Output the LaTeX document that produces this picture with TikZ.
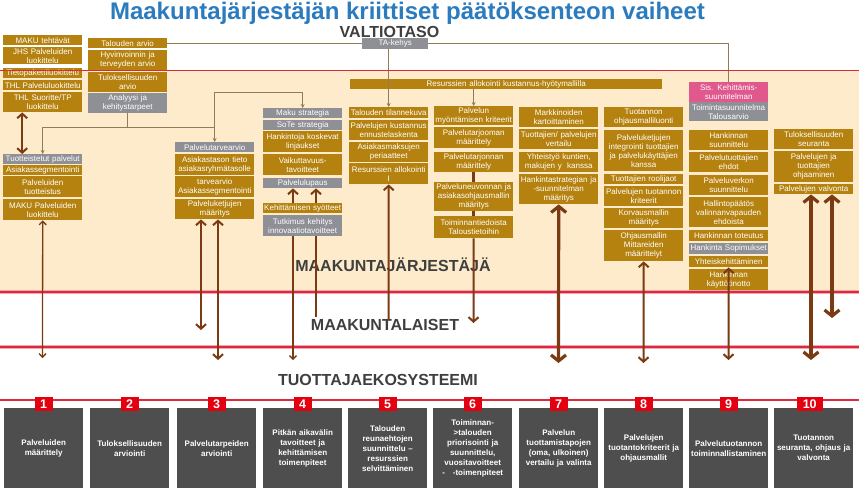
\documentclass[tikz,border=0pt]{standalone}
\usepackage{fontspec}
\setmainfont{Liberation Sans}
\usetikzlibrary{arrows.meta}
\definecolor{boxbrown}{HTML}{B5820F}
\definecolor{boxgray}{HTML}{8E9096}
\definecolor{boxpink}{HTML}{E0588C}
\definecolor{beige}{HTML}{FDEBCB}
\definecolor{arrowbrown}{HTML}{7B3A12}
\definecolor{conncol}{HTML}{8F7D5A}
\definecolor{stepgray}{HTML}{4E4E4E}
\definecolor{numred}{HTML}{E3000F}
\definecolor{redline}{HTML}{E0283C}
\definecolor{pinkband}{HTML}{F2A7B0}
\definecolor{titleblue}{HTML}{2B7BBF}
\definecolor{lvlgray}{HTML}{3F3F3F}
\begin{document}
\begin{tikzpicture}[x=1pt, y=-1pt,
    bx/.style={anchor=north west, fill=boxbrown, text=white, inner sep=0pt,
      minimum width=79, text width=79, align=center,
      font=\fontsize{8}{9}\selectfont},
    gx/.style={bx, fill=boxgray},
    px/.style={bx, fill=boxpink},
    stepbox/.style={anchor=north west, fill=stepgray, text=white, inner sep=0pt,
      minimum width=79, minimum height=80, text width=79, align=center,
      font=\bfseries\fontsize{8}{10}\selectfont},
    numbox/.style={fill=numred, text=white, inner sep=0pt, minimum width=18,
      minimum height=14, font=\bfseries\fontsize{12.5}{12.5}\selectfont},
    lvl/.style={anchor=base, text=lvlgray, font=\bfseries\fontsize{16}{16}\selectfont},
    conn/.style={draw=conncol, line width=0.9},
    conna/.style={conn, -{Stealth[length=4pt,width=4pt]}},
    thinarr/.style={draw=arrowbrown, line width=1.3, >={Straight Barb[length=3.5pt,width=7pt]}},
    medarr/.style={draw=arrowbrown, line width=2, >={Straight Barb[length=4.5pt,width=10pt]}},
    bigarr/.style={draw=arrowbrown, line width=3.2, >={Straight Barb[length=6pt,width=15pt]}}]
  \useasboundingbox (0,0) rectangle (859,491);
  \fill[white] (0,0) rectangle (859,491);
  \fill[beige] (0,71) rectangle (859,292);
  \draw[pinkband, line width=4] (0,292) -- (859,292);
  \draw[redline, line width=1.6] (0,292) -- (859,292);
  \draw[pinkband, line width=4] (0,347) -- (859,347);
  \draw[redline, line width=1.6] (0,347) -- (859,347);
  \draw[redline, line width=1.8] (0,400) -- (859,400);

  % otsikot ja tasot
  \node[anchor=base, text=titleblue, font=\bfseries\fontsize{24}{24}\selectfont] (title) at (407.5,19.5)
    {Maakuntajärjestäjän kriittiset päätöksenteon vaiheet};
  \node[lvl] (valtio) at (389.5,37) {VALTIOTASO};
  \node[lvl] (jarj) at (393,271) {MAAKUNTAJÄRJESTÄJÄ};
  \node[lvl] (laiset) at (385,330) {MAAKUNTALAISET};
  \node[lvl] (ekos) at (378,385) {TUOTTAJAEKOSYSTEEMI};

  \node[gx, minimum height=11, minimum width=66, text width=66] (ta) at (362,38) {TA-kehys};
  \node[bx, minimum height=10, minimum width=312, text width=312] (r) at (350,79)
    {Resurssien allokointi kustannus-hyötymallilla};

  \node[bx, minimum height=10] (a1) at (3,35) {MAKU tehtävät};
  \node[bx, minimum height=17] (a2) at (3,47) {JHS Palveluiden\\luokittelu};
  \node[bx, minimum height=10] (a3) at (3,68) {Tietopakettiluokittelu};
  \node[bx, minimum height=10] (a4) at (3,80) {THL Palveluluokittelu};
  \node[bx, minimum height=20] (a5) at (3,92) {THL Suoritte/TP\\luokittelu};

  \node[bx, minimum height=10] (b1) at (88,38) {Talouden arvio};
  \node[bx, minimum height=20] (b2) at (88,50) {Hyvinvoinnin ja\\terveyden arvio};
  \node[bx, minimum height=20] (b3) at (88,72) {Tuloksellisuuden\\arvio};
  \node[gx, minimum height=20] (b4) at (88,93) {Analyysi ja\\kehitystarpeet};

  \node[gx, minimum height=10] (c1) at (3,154) {Tuotteistetut palvelut};
  \node[bx, minimum height=10] (c2) at (3,165) {Asiakassegmentointi};
  \node[bx, minimum height=21] (c3) at (3,176) {Palveluiden\\tuotteistus};
  \node[bx, minimum height=21] (c4) at (3,199) {MAKU Palveluiden\\luokittelu};

  \node[gx, minimum height=10] (d1) at (175,142) {Palvelutarvearvio};
  \node[bx, minimum height=21] (d2) at (175,154) {Asiakastason tieto\\asiakasryhmätasolle};
  \node[bx, minimum height=21] (d3) at (175,176) {tarvearvio\\Asiakassegmentointi};
  \node[bx, minimum height=20] (d4) at (175,199) {Palveluketjujen\\määritys};

  \node[gx, minimum height=10] (e1) at (263,108) {Maku strategia};
  \node[gx, minimum height=10] (e2) at (263,120) {SoTe strategia};
  \node[bx, minimum height=21] (e3) at (263,131) {Hankintoja koskevat\\linjaukset};
  \node[bx, minimum height=21] (e4) at (263,154) {Vaikuttavuus-\\tavoitteet};
  \node[gx, minimum height=10] (e5) at (263,178) {Palvelulupaus};
  \node[bx, minimum height=10] (e6) at (263,203) {Kehittämisen syötteet};
  \node[gx, minimum height=21] (e7) at (263,215) {Tutkimus kehitys\\innovaatiotavoitteet};

  \node[bx, minimum height=11] (f1) at (349,107) {Talouden tilannekuva};
  \node[bx, minimum height=20] (f2) at (349,120) {Palvelujen kustannus\\ennustelaskenta};
  \node[bx, minimum height=20] (f3) at (349,142) {Asiakasmaksujen\\periaatteet};
  \node[bx, minimum height=21] (f4) at (349,163) {Resurssien allokointi\\I};

  \node[bx, minimum height=19] (g1) at (434,106) {Palvelun\\myöntämisen kriteerit};
  \node[bx, minimum height=21] (g2) at (434,127) {Palvelutarjooman\\määrittely};
  \node[bx, minimum height=20] (g3) at (434,152) {Palvelutarjonnan\\määrittely};
  \node[bx, minimum height=29] (g4) at (434,182) {Palveluneuvonnan ja\\asiakasohjausmallin\\määritys};
  \node[bx, minimum height=22] (g5) at (434,216) {Toiminnantiedoista\\Taloustietoihin};

  \node[bx, minimum height=20] (h1) at (519,107) {Markkinoiden\\kartoittaminen};
  \node[bx, minimum height=20] (h2) at (519,129) {Tuottajien/ palvelujen\\vertailu};
  \node[bx, minimum height=20] (h3) at (519,152) {Yhteistyö kuntien,\\makujen y\ \ kanssa};
  \node[bx, minimum height=30] (h4) at (519,174) {Hankintastrategian ja\\-suunnitelman\\määritys};

  \node[bx, minimum height=20] (i1) at (604,107) {Tuotannon\\ohjausmalliluonti};
  \node[bx, minimum height=41] (i2) at (604,130) {Palveluketjujen\\integrointi tuottajien\\ja palvelukäyttäjien\\kanssa};
  \node[bx, minimum height=10] (i3) at (604,174) {Tuottajien roolijaot};
  \node[bx, minimum height=20] (i4) at (604,186) {Palvelujen tuotannon\\kriteerit};
  \node[bx, minimum height=20] (i5) at (604,208) {Korvausmallin\\määritys};
  \node[bx, minimum height=31] (i6) at (604,230) {Ohjausmallin\\Mittareiden\\määrittelyt};

  \node[px, minimum height=20] (j1) at (689,82) {Sis. Kehittämis-\\suunnitelman};
  \node[gx, minimum height=19] (j2) at (689,102) {Toimintasuunnitelma\\Talousarvio};
  \node[bx, minimum height=20] (j3) at (689,130) {Hankinnan\\suunnittelu};
  \node[bx, minimum height=20] (j4) at (689,152) {Palvelutuottajien\\ehdot};
  \node[bx, minimum height=20] (j5) at (689,175) {Palveluverkon\\suunnittelu};
  \node[bx, minimum height=30] (j6) at (689,197) {Hallintopäätös\\valinnanvapauden\\ehdoista};
  \node[bx, minimum height=11] (j7) at (689,230) {Hankinnan toteutus};
  \node[gx, minimum height=11] (j8) at (689,243) {Hankinta Sopimukset};
  \node[bx, minimum height=11] (j9) at (689,256) {Yhteiskehittäminen};
  \node[bx, minimum height=21] (j10) at (689,269) {Hankinnan\\käyttöönotto};

  \node[bx, minimum height=20] (k1) at (774,129) {Tuloksellisuuden\\seuranta};
  \node[bx, minimum height=31] (k2) at (774,151) {Palvelujen ja\\tuottajien\\ohjaaminen};
  \node[bx, minimum height=10] (k3) at (774,184) {Palvelujen valvonta};

  % vaiheet
  \node[stepbox] (s1) at (4,408) {Palveluiden\\määrittely};
  \node[stepbox] (s2) at (90,408) {Tuloksellisuuden\\arviointi};
  \node[stepbox] (s3) at (177,408) {Palvelutarpeiden\\arviointi};
  \node[stepbox] (s4) at (263,408) {Pitkän aikavälin\\tavoitteet ja\\kehittämisen\\toimenpiteet};
  \node[stepbox] (s5) at (348,408) {Talouden\\reunaehtojen\\suunnittelu –\\resurssien\\selvittäminen};
  \node[stepbox] (s6) at (433,408) {Toiminnan-\\>talouden\\priorisointi ja\\suunnittelu,\\vuositavoitteet\\-\hspace{8pt}-toimenpiteet};
  \node[stepbox] (s7) at (519,408) {Palvelun\\tuottamistapojen\\(oma, ulkoinen)\\vertailu ja valinta};
  \node[stepbox] (s8) at (604,408) {Palvelujen\\tuotantokriteerit ja\\ohjausmallit};
  \node[stepbox] (s9) at (689,408) {Palvelutuotannon\\toiminnallistaminen};
  \node[stepbox] (s10) at (774,408) {Tuotannon\\seuranta, ohjaus ja\\valvonta};
  \node[numbox, yshift=4] (n1) at (s1.north) {1};
  \node[numbox, yshift=4] (n2) at (s2.north) {2};
  \node[numbox, yshift=4] (n3) at (s3.north) {3};
  \node[numbox, yshift=4] (n4) at (s4.north) {4};
  \node[numbox, yshift=4] (n5) at (s5.north) {5};
  \node[numbox, yshift=4] (n6) at (s6.north) {6};
  \node[numbox, yshift=4] (n7) at (s7.north) {7};
  \node[numbox, yshift=4] (n8) at (s8.north) {8};
  \node[numbox, yshift=4] (n9) at (s9.north) {9};
  \node[numbox, yshift=4, minimum width=26, xshift=-4] (n10) at (s10.north) {10};

  % ohuet yhteydet
  \coordinate (m) at (b4.south |- 0,127);
  \coordinate (t) at (d1.north |- 0,92);
  \draw[conn] (b4.south) -- (m);
  \draw[conna] (m) -| (c1.north);
  \draw[conna] (m) -| (d1.north);
  \draw[conna] (d1.north |- m) -- (t) -| (e1.north);
  \draw[conn] (b1.east) -- (b1.east -| ta.west);
  \draw[conn] (ta.east) -| (j1.north);
  \draw[conna] (f1.north |- ta.south) -- (f1.north);
  \draw[conna] (g1.north |- r.south) -- (g1.north);

  % nuolet
  \coordinate (z1) at (42.5,358);
  \coordinate (z2) at (201,330);
  \coordinate (z3) at (218,360);
  \coordinate (z4) at (293,360);
  \coordinate (z5) at (316,317);
  \coordinate (z6) at (388.5,320);
  \coordinate (z7) at (473.5,323);
  \coordinate (z8) at (558.5,363);
  \coordinate (z9) at (643.5,363);
  \coordinate (z10) at (728.5,360);
  \coordinate (z11) at (811,360);
  \coordinate (z12) at (832,318);
  \draw[medarr, <->] ([xshift=-20.5]a5.south) -- ([xshift=-20.5]c1.north);
  \draw[thinarr, <->] (c4.south) -- (z1);
  \draw[medarr, <->] (d4.south -| z2) -- (z2);
  \draw[medarr, <->] (d4.south -| z3) -- (z3);
  \draw[medarr, ->] (e6.north -| z4) -- (e5.south -| z4);
  \draw[medarr, ->] (e6.north -| z5) -- (e5.south -| z5);
  \draw[thinarr, ->] (e7.south -| z4) -- (z4);
  \draw[thinarr] (e7.south -| z5) -- (z5);
  \draw[medarr, <-] (f4.south) -- (z6);
  \draw[arrowbrown, line width=2.5] (g3.south) -- (g4.north);
  \draw[arrowbrown, line width=2.5] (g4.south) -- (g5.north);
  \draw[medarr, ->] (g5.south) -- (z7);
  \draw[bigarr, <->] (h4.south) -- (z8);
  \draw[medarr, <->] (i6.south) -- (z9);
  \draw[medarr, <->] (j9.south) -- (z10);
  \draw[bigarr, <->] (k3.south -| z11) -- (z11);
  \draw[bigarr, <->] (k3.south -| z12) -- (z12);

  \draw[redline, line width=1.2] (0,70.5) -- (859,70.5);
\end{tikzpicture}
\end{document}
